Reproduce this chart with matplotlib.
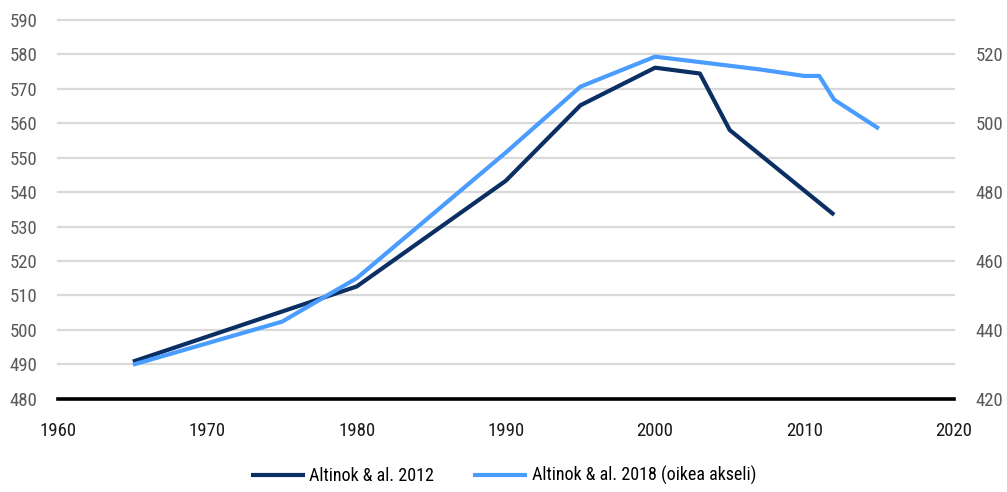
import matplotlib
matplotlib.use("Agg")
import matplotlib.pyplot as plt
from matplotlib import font_manager

# pick a condensed font if one is installed
cands = []
for f in font_manager.fontManager.ttflist:
    st = str(f.stretch).lower()
    if ('narrow' in f.name.lower() or 'condensed' in f.name.lower()
            or st in ('condensed', 'semi-condensed', 'extra-condensed', '75', '87.5')
            or 'condensed' in f.fname.lower() or 'narrow' in f.fname.lower()):
        cands.append((f.name, f.stretch, f.weight, f.style, f.fname))
pref = None
for c in cands:
    if c[3] == 'normal' and str(c[2]) in ('400', 'normal', 'regular', 'book'):
        if 'Liberation' in c[0] or 'Roboto' in c[0] or 'Open' in c[0]:
            pref = c
            break
if pref is None:
    for c in cands:
        if c[3] == 'normal' and str(c[2]) in ('400', 'normal', 'regular', 'book'):
            pref = c
            break

if pref is not None:
    plt.rcParams['font.family'] = [pref[0], 'DejaVu Sans']
    plt.rcParams['font.stretch'] = pref[1]
else:
    plt.rcParams['font.family'] = ['DejaVu Sans']

years_2012 = [1965, 1980, 1990, 1995, 2000, 2003, 2005, 2012]
vals_2012 = [490.8, 512.6, 543.3, 565.2, 576.1, 574.4, 558.0, 533.4]

years_2018 = [1965, 1975, 1980, 1990, 1995, 2000, 2007, 2010, 2011, 2012, 2015]
vals_2018 = [429.9, 442.4, 455.0, 491.5, 510.6, 519.3, 515.6, 513.7, 513.7, 506.8, 498.4]

label_2012 = "Altinok & al. 2012"
label_2018 = "Altinok & al. 2018 (oikea akseli)"

dark = "#0b2f63"
light = "#4a9cff"

fig = plt.figure(figsize=(10.07, 4.92), dpi=100)
ax = fig.add_axes([0.0579, 0.1894, 0.889, 0.7704])
ax2 = ax.twinx()

ax.set_xlim(1960, 2020)
ax.set_ylim(480, 590)
ax2.set_ylim(420, 530)
ax.set_yticks(range(480, 591, 10))
ax2.set_yticks(range(420, 521, 20))
ax.set_xticks(range(1960, 2021, 10))

ax.grid(axis='y', color='#d9d9d9', linewidth=1.6)
ax.set_axisbelow(True)
for s in ax.spines.values():
    s.set_visible(False)
for s in ax2.spines.values():
    s.set_visible(False)
ax.axhline(480, color='black', linewidth=2.6, zorder=3, clip_on=False)
for gl in ax.get_ygridlines():
    gl.set_clip_on(False)

l1, = ax.plot(years_2012, vals_2012, color=dark, linewidth=3, solid_capstyle='butt', label=label_2012, zorder=4)
l2, = ax2.plot(years_2018, vals_2018, color=light, linewidth=3, solid_capstyle='butt', label=label_2018, zorder=4)

fs = 13.5 if pref is not None else 11
ax.tick_params(axis='y', length=0, pad=15, labelsize=fs, labelcolor='#595959')
ax2.tick_params(axis='y', length=0, pad=16, labelsize=fs, labelcolor='#595959')
ax.tick_params(axis='x', length=0, pad=17, labelsize=fs, labelcolor='#1a1a1a')

fig.legend(handles=[l1, l2], loc='center', bbox_to_anchor=(0.5, 0.033), ncol=2,
           frameon=False, fontsize=13, handlelength=3.0, handletextpad=0.25,
           columnspacing=2.15)

fig.savefig("out.png", dpi=100)
